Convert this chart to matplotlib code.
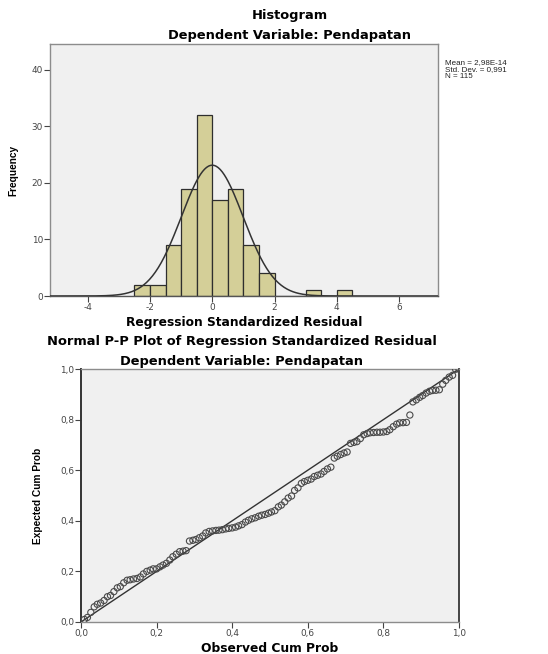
import numpy as np
import matplotlib
matplotlib.use("Agg")
import matplotlib.pyplot as plt
from matplotlib.ticker import FuncFormatter

plt.rcParams['font.family'] = ['Liberation Sans', 'DejaVu Sans']
plt.rcParams['axes.unicode_minus'] = False

# ---------------- data ----------------
bin_edges = [-2.5, -2.0, -1.5, -1.0, -0.5, 0.0, 0.5, 1.0, 1.5, 2.0, 2.5, 3.0, 3.5, 4.0, 4.5]
bin_counts = [2, 2, 9, 19, 32, 17, 19, 9, 4, 0, 0, 1, 0, 1]
resid_mean = 2.98e-14
resid_sd = 0.991
n_obs = 115
stats_text = ["Mean = 2,98E-14", "Std. Dev. = 0,991", "N = 115"]

hist_xticks = [-4, -2, 0, 2, 4, 6]
hist_yticks = [0, 10, 20, 30, 40]
pp_ticks = [0.0, 0.2, 0.4, 0.6, 0.8, 1.0]

observed_cum_prob = [
    0.009, 0.017, 0.026, 0.035, 0.043, 0.052, 0.061, 0.070, 0.078, 0.087,
    0.096, 0.104, 0.113, 0.122, 0.130, 0.139, 0.148, 0.157, 0.165, 0.174,
    0.183, 0.191, 0.200, 0.209, 0.217, 0.226, 0.235, 0.243, 0.252, 0.261,
    0.270, 0.278, 0.287, 0.296, 0.304, 0.313, 0.322, 0.330, 0.339, 0.348,
    0.357, 0.365, 0.374, 0.383, 0.391, 0.400, 0.409, 0.417, 0.426, 0.435,
    0.443, 0.452, 0.461, 0.470, 0.478, 0.487, 0.496, 0.504, 0.513, 0.522,
    0.530, 0.539, 0.548, 0.557, 0.565, 0.574, 0.583, 0.591, 0.600, 0.609,
    0.617, 0.626, 0.635, 0.643, 0.652, 0.661, 0.670, 0.678, 0.687, 0.696,
    0.704, 0.713, 0.722, 0.730, 0.739, 0.748, 0.757, 0.765, 0.774, 0.783,
    0.791, 0.800, 0.809, 0.817, 0.826, 0.835, 0.843, 0.852, 0.861, 0.870,
    0.878, 0.887, 0.896, 0.904, 0.913, 0.922, 0.930, 0.939, 0.948, 0.957,
    0.965, 0.974, 0.983, 0.991, 1.000]

expected_cum_prob = [
    0.010, 0.018, 0.038, 0.060,
    0.070, 0.075, 0.085, 0.100, 0.105, 0.120, 0.135, 0.140, 0.155,
    0.165, 0.167, 0.170, 0.172, 0.178, 0.190, 0.200, 0.205, 0.210, 0.210,
    0.218, 0.225, 0.232, 0.245, 0.258, 0.268, 0.278, 0.280, 0.282,
    0.320, 0.323, 0.326, 0.333, 0.340, 0.352, 0.358, 0.360, 0.362, 0.363,
    0.365, 0.368, 0.370, 0.372, 0.375, 0.380, 0.385, 0.395, 0.402, 0.408,
    0.412, 0.418, 0.422, 0.425, 0.430, 0.435, 0.440, 0.455, 0.462, 0.475,
    0.490, 0.498,
    0.520, 0.530, 0.548, 0.555, 0.560, 0.565, 0.575, 0.580, 0.585, 0.595,
    0.605, 0.612, 0.648, 0.655, 0.662, 0.668, 0.672,
    0.706, 0.710, 0.713, 0.725, 0.740, 0.745, 0.748, 0.749, 0.750, 0.750,
    0.751, 0.753, 0.760, 0.772, 0.782, 0.787, 0.788, 0.789, 0.818,
    0.870, 0.878, 0.888, 0.895, 0.905, 0.912, 0.915, 0.916, 0.918,
    0.940, 0.955, 0.968, 0.975,
    0.999, 1.000]

# ---------------- styling ----------------
bar_color = '#D4CF98'
bar_edge = '#2e2e2e'
bg = '#F0F0F0'
dark = '#333333'
frame = '#8c8c8c'
title_font = dict(family=['DejaVu Sans'], fontweight='bold', fontsize=9.4)
xlabel_font = dict(family=['DejaVu Sans'], fontweight='bold', fontsize=8.8)
ylabel_font = dict(family=['Liberation Sans'], fontweight='bold', fontsize=7.3)
tick_font_family = ['DejaVu Sans']

fig = plt.figure(figsize=(5.48, 6.54), dpi=100)
W, H = 548, 654

def px_axes(l, t, r, b):
    return fig.add_axes([l / W, 1 - b / H, (r - l) / W, (b - t) / H])

comma = FuncFormatter(lambda v, p: f"{v:.1f}".replace('.', ','))

def style_ticks(ax):
    ax.tick_params(axis='both', labelsize=6.4, colors='#444444', length=4, width=0.8,
                   direction='out', pad=1)
    for lab in ax.get_xticklabels() + ax.get_yticklabels():
        lab.set_family(tick_font_family)

# ---------------- histogram ----------------
ax1 = px_axes(50, 44, 438, 296)
ax1.set_facecolor(bg)
widths = np.diff(bin_edges)
lefts = np.array(bin_edges[:-1])
ax1.bar(lefts, bin_counts, width=widths, align='edge', color=bar_color,
        edgecolor=bar_edge, linewidth=0.9, zorder=2)
xs = np.linspace(-5.3, 7.3, 400)
binw = 0.5
curve = n_obs * binw / (resid_sd * np.sqrt(2 * np.pi)) * np.exp(-0.5 * ((xs - resid_mean) / resid_sd) ** 2)
ax1.plot(xs, curve, color=dark, linewidth=1.1, zorder=3)
ax1.set_xlim(-5.21, 7.25)
ax1.set_ylim(0, 44.6)
ax1.set_xticks(hist_xticks)
ax1.set_yticks(hist_yticks)
style_ticks(ax1)
for s in ax1.spines.values():
    s.set_color(frame)
    s.set_linewidth(1.0)
ax1.spines['bottom'].set_color('#555555')
ax1.set_xlabel('Regression Standardized Residual', labelpad=3, **xlabel_font)
ax1.set_ylabel('Frequency', labelpad=10, **ylabel_font)
fig.text(290 / W, 1 - 16 / H, 'Histogram', ha='center', va='center', **title_font)
fig.text(290 / W, 1 - 36 / H, 'Dependent Variable: Pendapatan', ha='center', va='center', **title_font)
fig.text(445 / W, 1 - 59 / H, "\n".join(stats_text),
         ha='left', va='top', fontsize=5.8, linespacing=0.95, color='#222222')

# ---------------- P-P plot ----------------
ax2 = px_axes(81, 369, 459, 622)
ax2.set_facecolor(bg)
ax2.plot([0, 1], [0, 1], color=dark, linewidth=1.0, zorder=2)
ax2.scatter(observed_cum_prob, expected_cum_prob, s=20, facecolors='none',
            edgecolors='#4a4a4a', linewidths=0.8, zorder=3)
ax2.set_xlim(0, 1)
ax2.set_ylim(0, 1)
ax2.set_xticks(pp_ticks)
ax2.set_yticks(pp_ticks)
ax2.xaxis.set_major_formatter(comma)
ax2.yaxis.set_major_formatter(comma)
style_ticks(ax2)
for s in ax2.spines.values():
    s.set_color(frame)
    s.set_linewidth(1.0)
ax2.spines['left'].set_color('#333333')
ax2.spines['left'].set_linewidth(1.4)
ax2.spines['right'].set_color('#444444')
ax2.spines['right'].set_linewidth(1.4)
ax2.set_xlabel('Observed Cum Prob', labelpad=3, **xlabel_font)
ax2.set_ylabel('Expected Cum Prob', labelpad=12, **ylabel_font)
fig.text(242 / W, 1 - 341 / H, 'Normal P-P Plot of Regression Standardized Residual',
         ha='center', va='center', **title_font)
fig.text(242 / W, 1 - 361 / H, 'Dependent Variable: Pendapatan', ha='center', va='center', **title_font)

fig.savefig('out.png', dpi=100, facecolor='white')
